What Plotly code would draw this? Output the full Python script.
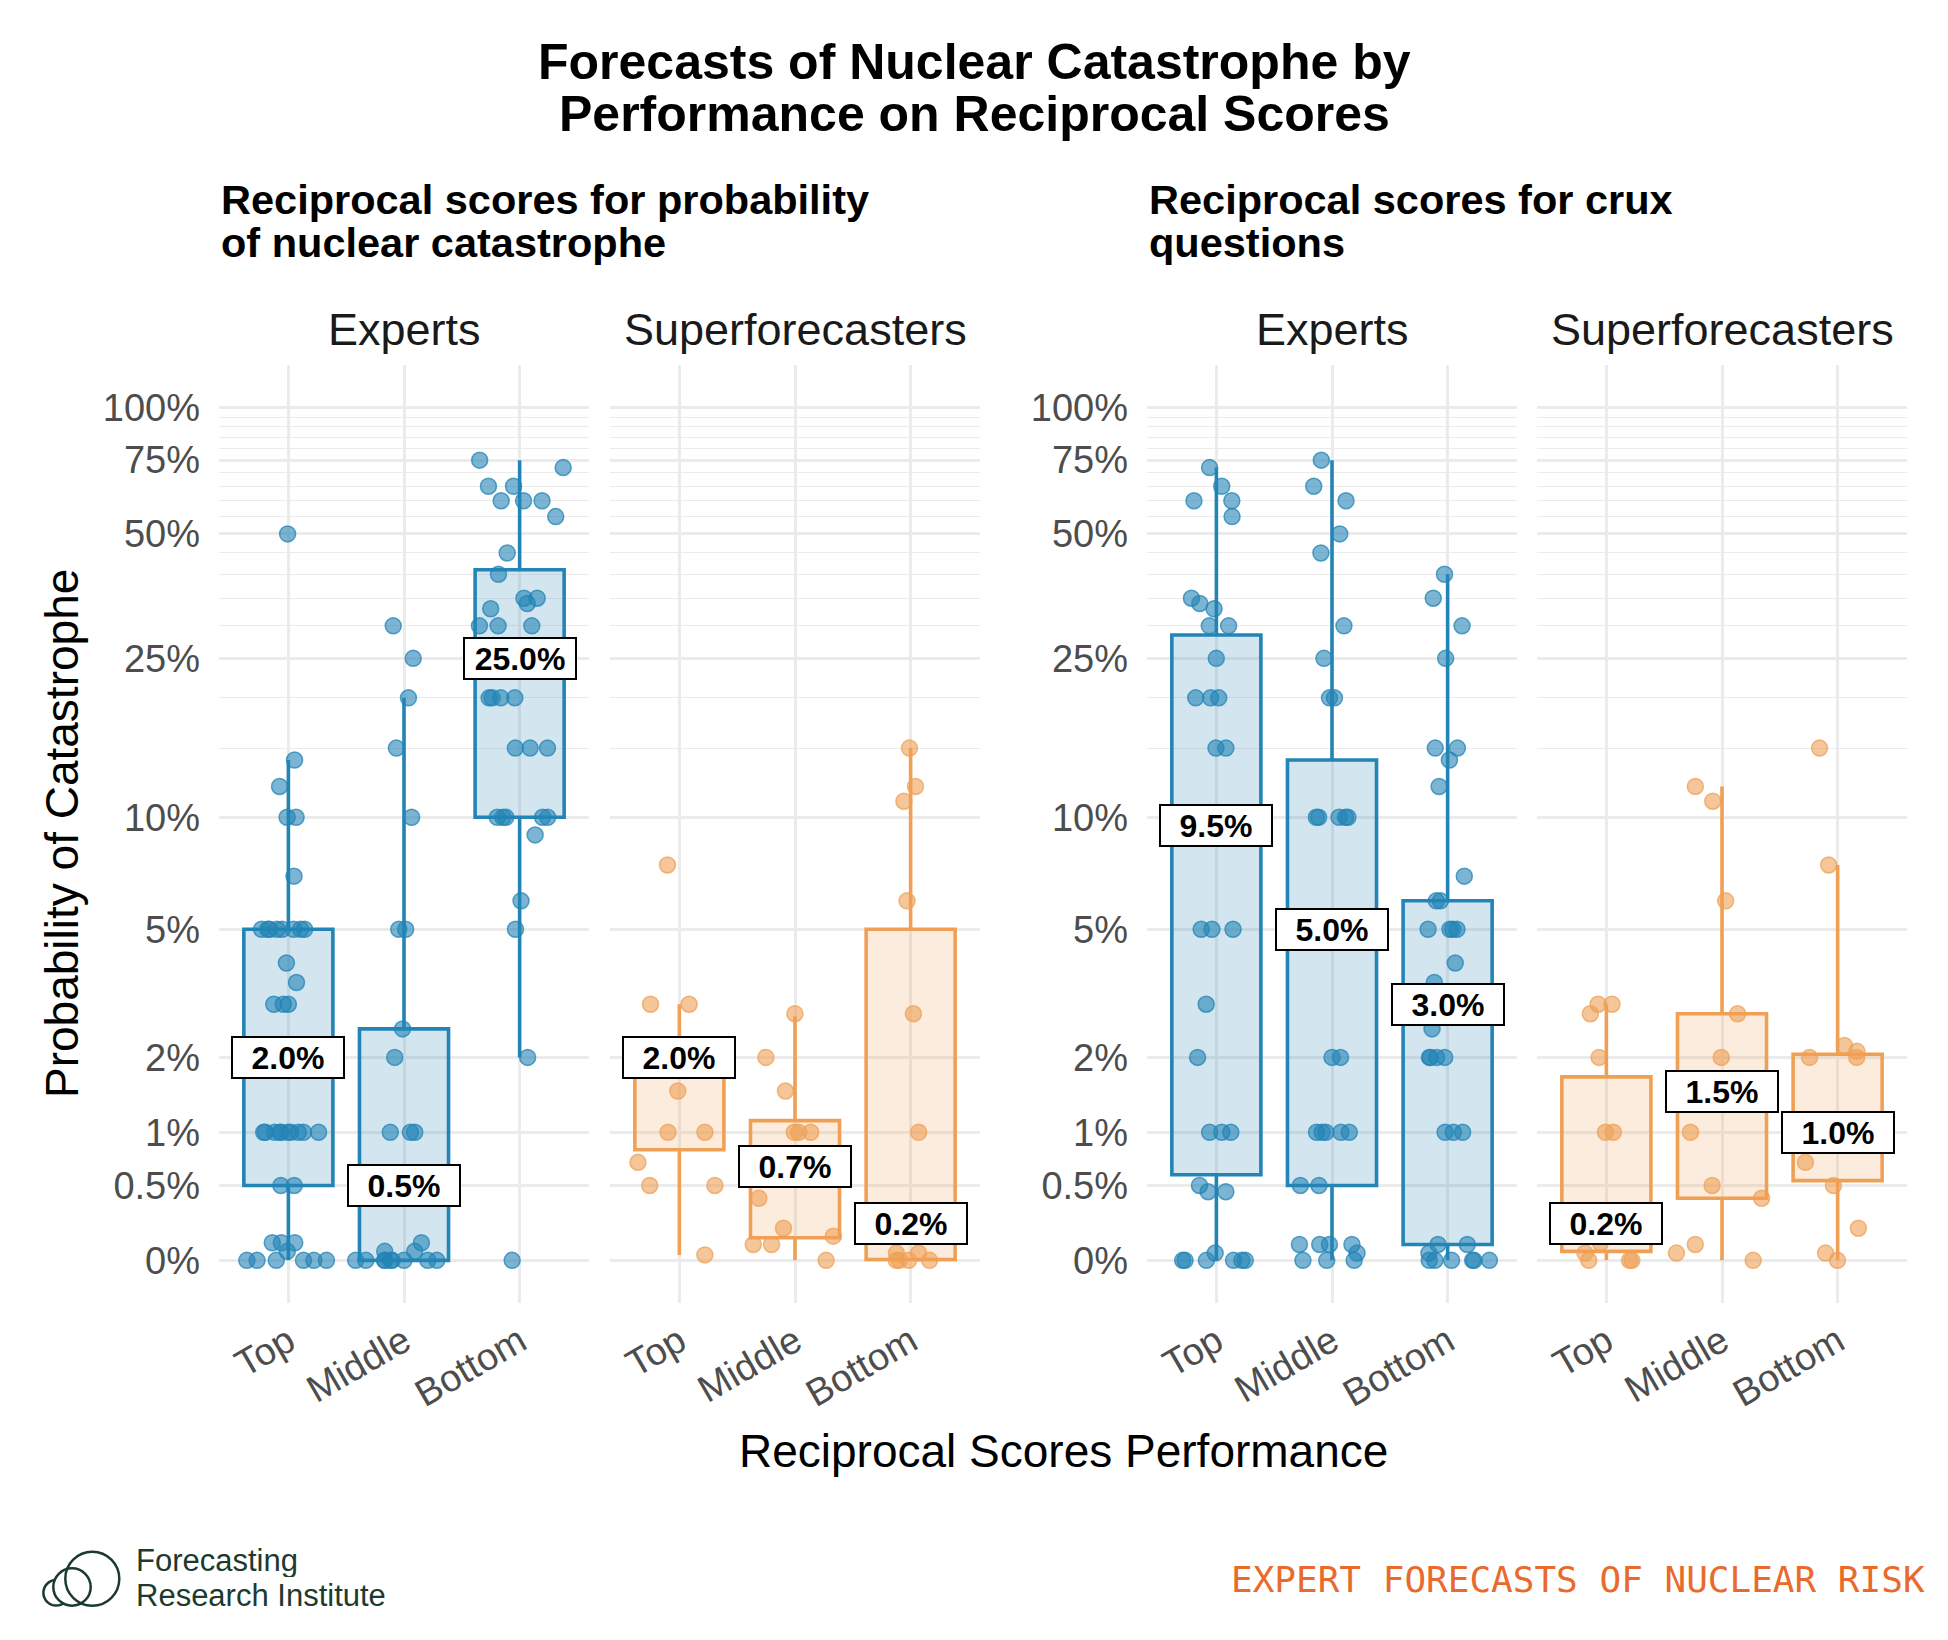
import math
import plotly.graph_objects as go

W, H = 1948, 1640

# ---------------- data (percent) ----------------
categories = ["Top", "Middle", "Bottom"]
tick_pcts = [0, 0.5, 1, 2, 5, 10, 25, 50, 75, 100]
tick_labels = ["0%", "0.5%", "1%", "2%", "5%", "10%", "25%", "50%", "75%", "100%"]
minor_pcts = [15, 20, 30, 35, 40, 45, 55, 60, 65, 70, 80, 85, 90, 95]

# Reciprocal scores for probability of nuclear catastrophe
prob_experts_top = [50, 14, 12, 10, 10, 7, 5, 5, 5, 5, 5, 5, 5, 5, 4, 3.5, 3, 3, 3, 2,
                    1, 1, 1, 1, 1, 1, 1, 1, 1, 1, 0.5, 0.5, 0.1, 0.1, 0.1, 0.05, 0, 0, 0, 0, 0, 0]
prob_experts_mid = [30, 25, 20, 15, 10, 5, 5, 2.5, 2, 1, 1, 1, 0.1, 0.05, 0.05, 0, 0, 0, 0, 0, 0, 0, 0, 0]
prob_experts_bot = [75, 72, 65, 65, 60, 60, 60, 55, 45, 40, 35, 35, 34, 33, 30, 30, 30, 25, 20, 20,
                    20, 20, 15, 15, 15, 10, 10, 10, 10, 10, 9, 6, 5, 2, 0]
prob_super_top = [7.5, 3, 3, 2, 2, 1.5, 1, 1, 0.7, 0.5, 0.5, 0.03]
prob_super_mid = [2.8, 2, 1.5, 1, 1, 1, 0.7, 0.4, 0.19, 0.14, 0.09, 0.09, 0]
prob_super_bot = [15, 12, 11, 6, 2.8, 1, 0.2, 0.04, 0.04, 0, 0, 0, 0]

prob_experts_q1 = [0.5, 0, 10]
prob_experts_median = [2.0, 0.5, 25.0]
prob_experts_q3 = [5, 2.5, 41]
prob_experts_low = [0, 0, 2]
prob_experts_high = [14, 20, 75]

prob_super_q1 = [0.82, 0.13, 0.005]
prob_super_median = [2.0, 0.66, 0.22]
prob_super_q3 = [2.2, 1.13, 5]
prob_super_low = [0.03, 0, 0]
prob_super_high = [3, 2.75, 15]

# Reciprocal scores for crux questions
crux_experts_top = [72, 65, 60, 60, 55, 35, 34, 33, 30, 30, 25, 20, 20, 20, 15, 15, 9.5, 5, 5, 5,
                    3, 2, 1, 1, 1, 0.5, 0.45, 0.45, 0.04, 0, 0, 0, 0, 0, 0]
crux_experts_mid = [75, 65, 60, 50, 45, 30, 25, 20, 20, 10, 10, 10, 10, 10, 5, 2, 2, 1, 1, 1,
                    1, 1, 0.5, 0.5, 0.09, 0.09, 0.09, 0.09, 0.04, 0, 0, 0]
crux_experts_bot = [40, 35, 30, 25, 15, 15, 14, 12, 7, 6, 6, 5, 5, 5, 5, 4, 3.5, 3, 2.5, 2,
                    2, 2, 2, 1, 1, 1, 0.09, 0.09, 0.04, 0, 0, 0, 0, 0, 0]
crux_super_top = [3, 3, 2.8, 2, 1, 1, 0.2, 0.1, 0.04, 0, 0, 0]
crux_super_mid = [12, 11, 6, 2.8, 2, 1.5, 1, 0.5, 0.4, 0.09, 0.04, 0]
crux_super_bot = [15, 7.5, 2.2, 2.1, 2, 2, 1, 0.7, 0.5, 0.19, 0.04, 0]

crux_experts_q1 = [0.59, 0.5, 0.09]
crux_experts_median = [9.5, 5.0, 3.0]
crux_experts_q3 = [28.5, 14, 6]
crux_experts_low = [0, 0, 0]
crux_experts_high = [72, 75, 40]

crux_super_q1 = [0.05, 0.4, 0.54]
crux_super_median = [0.22, 1.5, 1.0]
crux_super_q3 = [1.7, 2.8, 2.05]
crux_super_low = [0, 0, 0]
crux_super_high = [3, 12, 7.5]

# ---------------- styling ----------------
BLUE = (35, 132, 182)
ORANGE = (239, 160, 85)
FONT = "Liberation Sans"
GRID = "#EBEBEB"


def rgba(c, a):
    return "rgba(%d,%d,%d,%s)" % (c[0], c[1], c[2], a)


def tr(p):
    return math.log10(1 + p)


def px_x(px):
    return px / W


def px_y(py):
    return 1 - py / H


panels = [
    dict(pts=[prob_experts_top, prob_experts_mid, prob_experts_bot], q1=prob_experts_q1,
         med=prob_experts_median, q3=prob_experts_q3, lo=prob_experts_low, hi=prob_experts_high,
         col=BLUE, x0=219, x1=589, strip="Experts", labels=True),
    dict(pts=[prob_super_top, prob_super_mid, prob_super_bot], q1=prob_super_q1,
         med=prob_super_median, q3=prob_super_q3, lo=prob_super_low, hi=prob_super_high,
         col=ORANGE, x0=610, x1=980, strip="Superforecasters", labels=False),
    dict(pts=[crux_experts_top, crux_experts_mid, crux_experts_bot], q1=crux_experts_q1,
         med=crux_experts_median, q3=crux_experts_q3, lo=crux_experts_low, hi=crux_experts_high,
         col=BLUE, x0=1147, x1=1517, strip="Experts", labels=True),
    dict(pts=[crux_super_top, crux_super_mid, crux_super_bot], q1=crux_super_q1,
         med=crux_super_median, q3=crux_super_q3, lo=crux_super_low, hi=crux_super_high,
         col=ORANGE, x0=1537, x1=1907, strip="Superforecasters", labels=False),
]

PANEL_TOP, PANEL_BOT = 365, 1303
ymin, ymax = -0.05 * tr(100), 1.05 * tr(100)

fig = go.Figure()
annotations = []
layout_axes = {}

for i, p in enumerate(panels):
    n = i + 1
    xa = "x" if n == 1 else "x%d" % n
    ya = "y" if n == 1 else "y%d" % n
    col = p["col"]

    fig.add_trace(go.Box(
        x=categories,
        q1=[tr(v) for v in p["q1"]], median=[tr(v) for v in p["med"]], q3=[tr(v) for v in p["q3"]],
        lowerfence=[tr(v) for v in p["lo"]], upperfence=[tr(v) for v in p["hi"]],
        boxpoints=False, width=0.77, whiskerwidth=0,
        fillcolor=rgba(col, 0.2), line=dict(color=rgba(col, 1), width=3.6),
        xaxis=xa, yaxis=ya, showlegend=False, hoverinfo="skip"))

    xs, ys = [], []
    for c, vals in zip(categories, p["pts"]):
        xs += [c] * len(vals)
        ys += [tr(v) for v in vals]
    fig.add_trace(go.Box(
        x=xs, y=ys, boxpoints="all", jitter=1, pointpos=0, width=0.85, whiskerwidth=0,
        fillcolor="rgba(0,0,0,0)", line=dict(color="rgba(0,0,0,0)", width=0),
        marker=dict(size=16, color=rgba(col, 0.6), line=dict(color=rgba(col, 0.75), width=1.5)),
        xaxis=xa, yaxis=ya, showlegend=False, hoverinfo="skip"))

    layout_axes["xaxis" if n == 1 else "xaxis%d" % n] = dict(
        domain=[px_x(p["x0"]), px_x(p["x1"])], anchor=ya, type="category",
        categoryorder="array", categoryarray=categories, range=[-0.6, 2.6],
        showgrid=True, gridcolor=GRID, gridwidth=2.6, zeroline=False, showline=False,
        ticks="", tickangle=-30, ticklabelstandoff=8,
        tickfont=dict(family=FONT, size=38, color="#4D4D4D"), automargin=False)
    layout_axes["yaxis" if n == 1 else "yaxis%d" % n] = dict(
        domain=[px_y(PANEL_BOT), px_y(PANEL_TOP)], anchor=xa, range=[ymin, ymax],
        tickvals=[tr(v) for v in tick_pcts], ticktext=tick_labels,
        showticklabels=p["labels"], showgrid=True, gridcolor=GRID, gridwidth=2.6,
        minor=dict(tickvals=[tr(v) for v in minor_pcts], showgrid=True, gridcolor=GRID,
                   gridwidth=1.3, ticks=""),
        zeroline=False, showline=False, ticks="", ticklabelstandoff=18,
        tickfont=dict(family=FONT, size=38, color="#4D4D4D"), automargin=False)

    # strip label
    annotations.append(dict(text=p["strip"], x=px_x((p["x0"] + p["x1"]) / 2), y=px_y(329),
                            xref="paper", yref="paper", xanchor="center", yanchor="middle",
                            showarrow=False, font=dict(family=FONT, size=45, color="#1A1A1A")))
    # median labels
    for c, m in zip(categories, p["med"]):
        annotations.append(dict(text="<b>%.1f%%</b>" % m, x=c, y=tr(m), xref=xa, yref=ya,
                                xanchor="center", yanchor="middle", showarrow=False,
                                font=dict(family=FONT, size=32, color="#000000"),
                                bgcolor="#FFFFFF", bordercolor="#000000", borderwidth=2,
                                borderpad=2, width=106, height=35))

# titles
for txt, yy in [("Forecasts of Nuclear Catastrophe by", 62), ("Performance on Reciprocal Scores", 114)]:
    annotations.append(dict(text="<b>%s</b>" % txt, x=px_x(974), y=px_y(yy), xref="paper", yref="paper",
                            xanchor="center", yanchor="middle", showarrow=False,
                            font=dict(family=FONT, size=50, color="#000000")))
for txt, xx, yy in [("Reciprocal scores for probability", 219, 199), ("of nuclear catastrophe", 219, 242),
                    ("Reciprocal scores for crux", 1147, 199), ("questions", 1147, 242)]:
    annotations.append(dict(text="<b>%s</b>" % txt, x=px_x(xx), y=px_y(yy), xref="paper", yref="paper",
                            xanchor="left", yanchor="middle", showarrow=False,
                            font=dict(family=FONT, size=41.5, color="#000000")))

# axis titles
annotations.append(dict(text="Reciprocal Scores Performance", x=px_x(1063), y=px_y(1451),
                        xref="paper", yref="paper", xanchor="center", yanchor="middle",
                        showarrow=False, font=dict(family=FONT, size=46, color="#000000")))
annotations.append(dict(text="Probability of Catastrophe", x=px_x(62), y=px_y(834), textangle=-90,
                        xref="paper", yref="paper", xanchor="center", yanchor="middle",
                        showarrow=False, font=dict(family=FONT, size=46, color="#000000")))

# footer
LOGO = "#1C3A2E"
annotations.append(dict(text="Forecasting", x=px_x(134), y=px_y(1579), xref="paper", yref="paper",
                        xanchor="left", yanchor="bottom", showarrow=False, height=33,
                        font=dict(family=FONT, size=31, color=LOGO)))
annotations.append(dict(text="Research Institute", x=px_x(134), y=px_y(1579), xref="paper", yref="paper",
                        xanchor="left", yanchor="top", showarrow=False, height=29,
                        font=dict(family=FONT, size=31, color=LOGO)))
annotations.append(dict(text="EXPERT FORECASTS OF NUCLEAR RISK", x=px_x(1927), y=px_y(1579),
                        xref="paper", yref="paper", xanchor="right", yanchor="middle",
                        showarrow=False, font=dict(family="DejaVu Sans Mono", size=36, color="#EA6A2C")))

shapes = []
for (cx, cy, r, fill) in [(56.2, 1592.8, 12.8, "#FFFFFF"), (72.0, 1587.0, 18.7, "#FFFFFF"),
                          (92.3, 1578.7, 27.0, "rgba(0,0,0,0)")]:
    shapes.append(dict(type="circle", xref="paper", yref="paper",
                       x0=px_x(cx - r), x1=px_x(cx + r), y0=px_y(cy + r), y1=px_y(cy - r),
                       line=dict(color=LOGO, width=2.5), fillcolor=fill, layer="above"))

fig.update_layout(
    template="none", width=W, height=H, margin=dict(l=0, r=0, t=0, b=0),
    paper_bgcolor="white", plot_bgcolor="white", boxmode="overlay", showlegend=False,
    annotations=annotations, shapes=shapes, font=dict(family=FONT), **layout_axes)

fig.write_html("out.html")
